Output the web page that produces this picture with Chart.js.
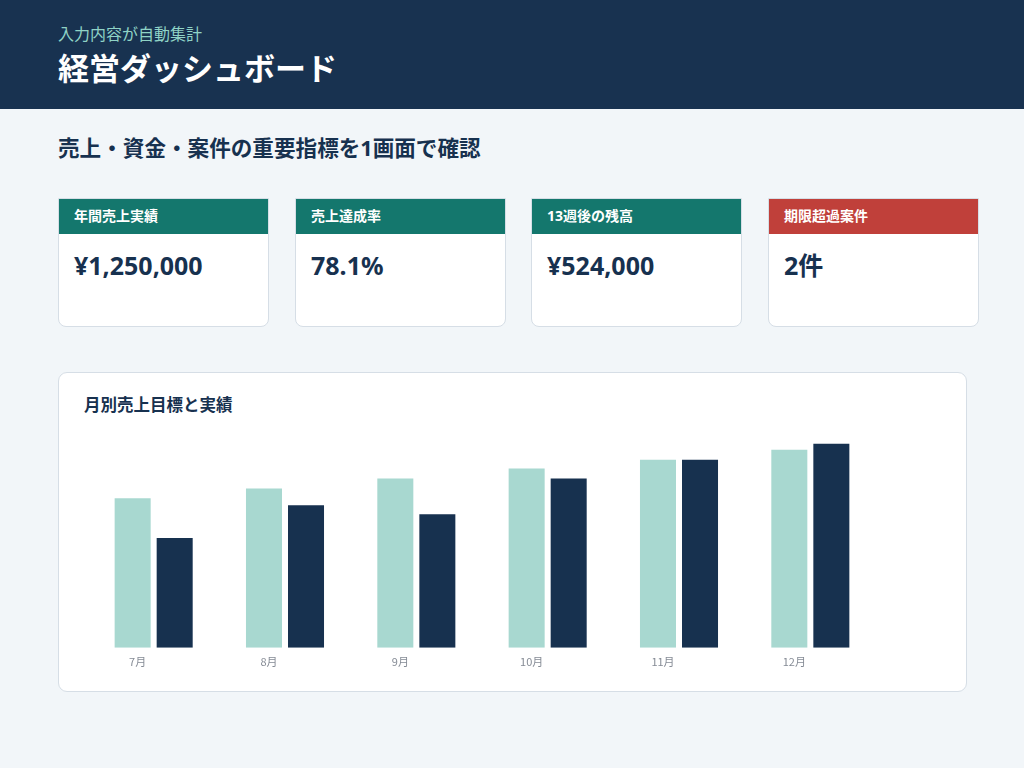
<!DOCTYPE html>
<html lang="ja">
<head>
<meta charset="utf-8">
<script src="https://cdn.jsdelivr.net/npm/chart.js@4"></script>
<style>
  * { box-sizing: border-box; margin: 0; padding: 0; }
  body {
    width: 1024px; height: 768px; overflow: hidden;
    background: #f2f6f9;
    font-family: "Noto Sans", "Noto Sans CJK JP", sans-serif;
    color: #17314f;
    position: relative;
  }
  .header { position: absolute; left: 0; top: 0; width: 1024px; height: 109px; background: #183250; }
  .sub { position: absolute; left: 58px; top: 23px; font-size: 16px; color: #8fd3c6; line-height: 22px; }
  .title { position: absolute; left: 58px; top: 48px; font-size: 31px; font-weight: bold; color: #fff; line-height: 40px; }
  .lead { position: absolute; left: 58px; top: 133px; font-size: 21.6px; font-weight: bold; line-height: 30px; }
  .kpi {
    position: absolute; top: 198px; width: 211px; height: 129px;
    background: #fff; border: 1px solid #d6dee6; border-radius: 0 0 8px 8px; overflow: hidden;
  }
  .kpi .lab { height: 35px; background: #14776d; color: #fff; font-size: 14px; font-weight: bold; padding-left: 15px; line-height: 33px; }
  .kpi.red .lab { background: #c0403a; }
  .kpi .val { padding-left: 15px; padding-top: 13px; font-size: 25px; font-weight: bold; line-height: 36px; }
  .panel {
    position: absolute; left: 58px; top: 372px; width: 909px; height: 320px;
    background: #fff; border: 1px solid #d6dee6; border-radius: 9px;
  }
  .panel h3 { position: absolute; left: 25px; top: 20px; font-size: 16.5px; font-weight: bold; line-height: 24px; }
  .chartbox { position: absolute; left: 88px; top: 430px; width: 788px; height: 246px; }
</style>
</head>
<body>
<div class="header">
  <div class="sub">入力内容が自動集計</div>
  <div class="title">経営ダッシュボード</div>
</div>
<div class="lead">売上・資金・案件の重要指標を1画面で確認</div>

<div class="kpi" style="left:58px"><div class="lab">年間売上実績</div><div class="val">¥1,250,000</div></div>
<div class="kpi" style="left:295px"><div class="lab">売上達成率</div><div class="val">78.1%</div></div>
<div class="kpi" style="left:531px"><div class="lab">13週後の残高</div><div class="val">¥524,000</div></div>
<div class="kpi red" style="left:768px"><div class="lab">期限超過案件</div><div class="val">2件</div></div>

<div class="panel"><h3>月別売上目標と実績</h3></div>
<div class="chartbox"><canvas id="sales"></canvas></div>

<script>
const months = ["7月", "8月", "9月", "10月", "11月", "12月"];
const targetSales = [151000, 161000, 171000, 181000, 190000, 200000];
const actualSales = [111000, 144000, 135000, 171000, 190000, 206000];

const ctx = document.getElementById("sales").getContext("2d");
const chart = new Chart(ctx, {
    type: "bar",
    data: {
        labels: months,
        datasets: [{
                label: "目標",
                data: targetSales,
                backgroundColor: "#a8d8d0",
                categoryPercentage: 0.64,
                barPercentage: 0.857,
            },
            {
                label: "実績",
                data: actualSales,
                backgroundColor: "#17314f",
                categoryPercentage: 0.64,
                barPercentage: 0.857,
            },
        ],
    },
    options: {
        responsive: true,
        maintainAspectRatio: false,
        animation: false,
        layout: { padding: 0 },
        plugins: {
            legend: { display: false },
            tooltip: { enabled: false },
        },
        scales: {
            x: {
                grid: { display: false, drawTicks: false },
                border: { display: false },
                ticks: {
                    color: "#858b95",
                    padding: 7.5,
                    labelOffset: -16,
                    font: { size: 11, family: "'Noto Sans CJK JP', 'Noto Sans', sans-serif" },
                },
            },
            y: {
                display: false,
                min: 0,
                max: 220000,
            },
        },
    },
});
</script>
</body>
</html>
